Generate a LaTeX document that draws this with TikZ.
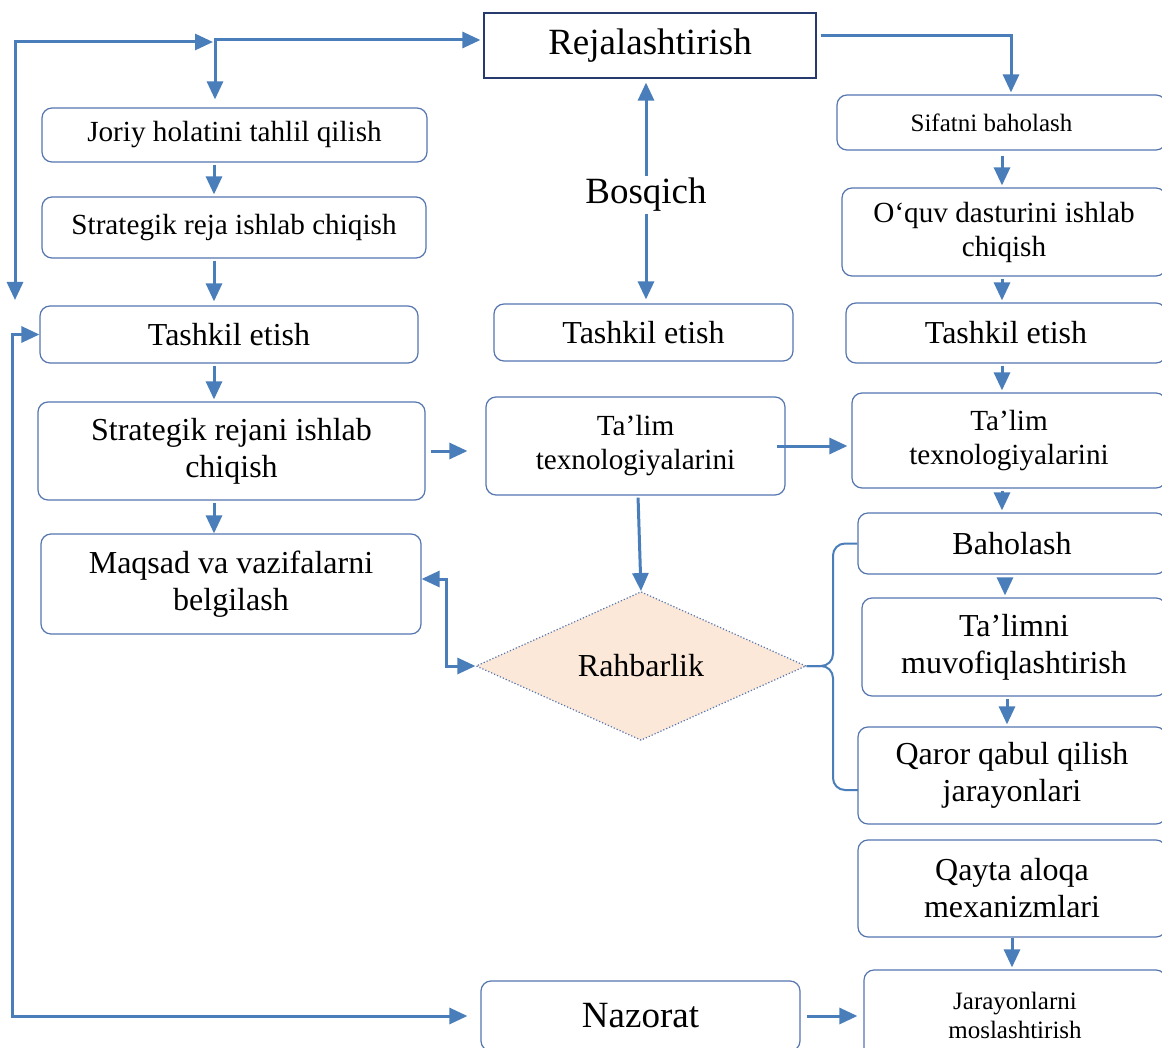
\documentclass[tikz,border=0pt]{standalone}
\usepackage{fontspec}
\setmainfont{Liberation Serif}
\usepackage{tikz}
\usetikzlibrary{arrows.meta,shapes.geometric}
\definecolor{lineblue}{RGB}{74,126,187}
\definecolor{boxblue}{RGB}{86,118,176}
\definecolor{rejblue}{RGB}{38,58,110}
\definecolor{peach}{RGB}{252,232,216}
\newcommand\szBig{\fontsize{18.5}{22}\selectfont}
\newcommand\szNorm{\fontsize{16}{18.5}\selectfont}
\newcommand\szMed{\fontsize{14.6}{17}\selectfont}
\newcommand\szSmall{\fontsize{12.5}{14.5}\selectfont}
\tikzstyle{blok}=[draw=boxblue,line width=0.6pt,rounded corners=5pt,inner sep=0pt,align=center,font=\szNorm]
\tikzstyle{arr}=[draw=lineblue,line width=1.5pt,-{Triangle[length=9pt,width=8pt]},shorten <=1pt,shorten >=1pt]
\tikzstyle{arrboth}=[draw=lineblue,line width=1.5pt,{Triangle[length=9pt,width=8pt]}-{Triangle[length=9pt,width=8pt]}]
\tikzstyle{brc}=[draw=lineblue,line width=1pt,rounded corners=6pt]

\begin{document}
\begin{tikzpicture}[x=0.5pt,y=-0.5pt]
    \clip (0,0) rectangle (1162,1048);
    \fill [white] (0,0) rectangle (1162,1048);
    \node [blok,rounded corners=0pt,draw=rejblue,font=\szBig,minimum width=166pt,minimum height=32.5pt] (rej) at (650,45.5) {Rejalashtirish};
    \node [blok,font=\szMed,minimum width=192.5pt,minimum height=27pt] (joriy) at (234.5,135) {Joriy holatini tahlil qilish};
    \node [blok,font=\szMed,minimum width=192pt,minimum height=30.5pt] (strat1) at (234,227.5) {Strategik reja ishlab chiqish};
    \node [blok,minimum width=189pt,minimum height=28.5pt] (tashL) at (229,334.5) {Tashkil etish};
    \node [blok,minimum width=193.5pt,minimum height=49pt] (strat2) at (231.5,451) {Strategik rejani ishlab\\chiqish};
    \node [blok,minimum width=190pt,minimum height=50pt] (maqsad) at (231,584) {Maqsad va vazifalarni\\belgilash};
    \node [blok,minimum width=149.5pt,minimum height=28.5pt] (tashM) at (643.5,332.5) {Tashkil etish};
    \node [blok,font=\szMed,minimum width=149.5pt,minimum height=49pt] (talimM) at (635.5,446) {Ta’lim\\texnologiyalarini};
    \node [diamond,draw=boxblue,densely dotted,line width=0.6pt,fill=peach,inner sep=0pt,font=\szNorm,minimum width=165pt,minimum height=74pt] (rahb) at (641,666) {Rahbarlik};
    \node [font=\szBig,inner sep=1pt] (bosq) at (646,195) {Bosqich};
    \node [blok,font=\szSmall,minimum width=164.5pt,minimum height=27.5pt] (sif) at (1001.5,122.5) {Sifatni baholash\hspace*{10pt}};
    \node [blok,font=\szMed,minimum width=162pt,minimum height=44pt] (oquv) at (1004,232) {O‘quv dasturini ishlab\\chiqish};
    \node [blok,minimum width=160pt,minimum height=30pt] (tashR) at (1006,333) {Tashkil etish};
    \node [blok,font=\szMed,minimum width=157pt,minimum height=47.5pt] (talimR) at (1009,440.5) {Ta’lim\\texnologiyalarini};
    \node [blok,minimum width=154pt,minimum height=30.5pt] (bah) at (1012,543.5) {Baholash};
    \node [blok,minimum width=152pt,minimum height=49pt] (muv) at (1014,647) {Ta’limni\\muvofiqlashtirish};
    \node [blok,minimum width=154pt,minimum height=48.5pt] (qaror) at (1012,775.5) {Qaror qabul qilish\\jarayonlari};
    \node [blok,minimum width=154pt,minimum height=48.5pt] (qayta) at (1012,888.5) {Qayta aloqa\\mexanizmlari};
    \node [blok,font=\szSmall,minimum width=151pt,minimum height=45pt] (jar) at (1015,1015) {Jarayonlarni\\moslashtirish};
    \node [blok,font=\szBig,minimum width=159.5pt,minimum height=35pt] (naz) at (640.5,1016) {Nazorat};

    \coordinate (sp) at (215,40);
    \coordinate (lt) at (15,300);
    \coordinate (tj) at (213,42);
    \coordinate (lx) at (12,0);
    \coordinate (cl) at (214,0);
    \coordinate (cr) at (1002,0);
    \coordinate (rc) at (1011,36);
    \coordinate (tm) at (638,0);
    \coordinate (mq) at (446,579);
    \coordinate (bk) at (833,666);
    \coordinate (bb) at (858,790);

    \draw [arrboth] (lt) |- (tj);
    \draw [arrboth,shorten <=4pt,shorten >=1.5pt] (joriy.north -| sp) |- (rej.west |- sp);
    \draw [arrboth,shorten >=6.5pt] (tashL.west) -- (tashL.west -| lx) |- (naz.west);
    \draw [arr] (joriy.south -| cl) -- (strat1.north -| cl);
    \draw [arr,shorten >=2pt] (strat1.south -| cl) -- (tashL.north -| cl);
    \draw [arr] (tashL.south -| cl) -- (strat2.north -| cl);
    \draw [arr,shorten >=0pt] (strat2.south -| cl) -- (maqsad.north -| cl);
    \draw [arr,shorten <=2.5pt,shorten >=9pt] (strat2.east) -- (talimM.west |- strat2.east);
    \draw [arr,shorten <=-4.5pt,shorten >=2pt] (talimM.east) -- (talimR.west |- talimM.east);
    \draw [arr,shorten >=0pt] (talimM.south -| tm) -- (rahb.north);
    \draw [arrboth] (rahb.west) -| (mq) -- (maqsad.east |- mq);
    \draw [arr,shorten <=0pt,shorten >=2pt] (bosq) -- (rej.south -| bosq);
    \draw [arr,shorten <=0pt,shorten >=2pt] (bosq) -- (tashM.north -| bosq);
    \draw [arr,shorten <=2pt] (rej.east |- rc) -- (rc) -- (sif.north -| rc);
    \draw [arr,shorten <=2.5pt] (sif.south -| cr) -- (oquv.north -| cr);
    \draw [arr] (oquv.south -| cr) -- (tashR.north -| cr);
    \draw [arr] (tashR.south -| cr) -- (talimR.north -| cr);
    \draw [arr] (talimR.south -| cr) -- (bah.north -| cr);
    \draw [arr,shorten <=2pt] (bah.south -| 1005,0) -- (muv.north -| 1005,0);
    \draw [arr] (muv.south -| 1007,0) -- (qaror.north -| 1007,0);
    \draw [arr,shorten <=0pt] (qayta.south) -- (qayta.south |- jar.north);
    \draw [arr,shorten <=3pt,shorten >=3pt] (naz.east) -- (jar.west |- naz.east);
    \draw [brc] (bah.west) -| (bk) -- (rahb.east);
    \draw [brc] (bb) -| (bk) -- (rahb.east);
\end{tikzpicture}
\end{document}
